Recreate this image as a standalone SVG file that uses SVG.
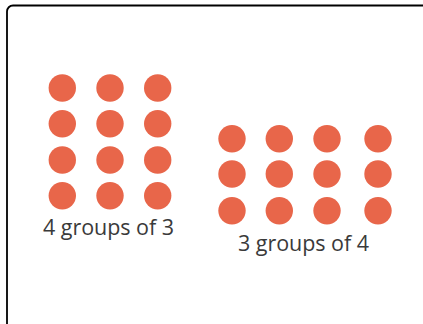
<svg xmlns="http://www.w3.org/2000/svg" width="423" height="324" viewBox="0 0 423 324">
<style>
.dot{fill:#E8664A}
.lbl{font-family:"Open Sans","DejaVu Sans",sans-serif;font-size:21.5px;fill:#3a3a3a}
</style>
<rect width="423" height="324" fill="#fff"/>
<rect x="7" y="5.5" width="430" height="340" rx="6" fill="none" stroke="#000" stroke-width="1.8"/>
<g id="group-4x3">
<circle class="dot" cx="62.3" cy="88" r="13.7"/>
<circle class="dot" cx="110" cy="88" r="13.7"/>
<circle class="dot" cx="157.7" cy="88" r="13.7"/>
<circle class="dot" cx="62.3" cy="123.7" r="13.7"/>
<circle class="dot" cx="110" cy="123.7" r="13.7"/>
<circle class="dot" cx="157.7" cy="123.7" r="13.7"/>
<circle class="dot" cx="62.3" cy="160" r="13.7"/>
<circle class="dot" cx="110" cy="160" r="13.7"/>
<circle class="dot" cx="157.7" cy="160" r="13.7"/>
<circle class="dot" cx="62.3" cy="195.7" r="13.7"/>
<circle class="dot" cx="110" cy="195.7" r="13.7"/>
<circle class="dot" cx="157.7" cy="195.7" r="13.7"/>
<text class="lbl" x="43" y="235" textLength="131" lengthAdjust="spacing">4 groups of 3</text>
</g>
<g id="group-3x4">
<circle class="dot" cx="232" cy="138.7" r="13.7"/>
<circle class="dot" cx="279.3" cy="138.7" r="13.7"/>
<circle class="dot" cx="327" cy="138.7" r="13.7"/>
<circle class="dot" cx="378" cy="138.7" r="13.7"/>
<circle class="dot" cx="232" cy="174" r="13.7"/>
<circle class="dot" cx="279.3" cy="174" r="13.7"/>
<circle class="dot" cx="327" cy="174" r="13.7"/>
<circle class="dot" cx="378" cy="174" r="13.7"/>
<circle class="dot" cx="232" cy="210.7" r="13.7"/>
<circle class="dot" cx="279.3" cy="210.7" r="13.7"/>
<circle class="dot" cx="327" cy="210.7" r="13.7"/>
<circle class="dot" cx="378" cy="210.7" r="13.7"/>
<text class="lbl" x="238" y="251" textLength="131" lengthAdjust="spacing">3 groups of 4</text>
</g>
<g id="connectors"/>
</svg>
